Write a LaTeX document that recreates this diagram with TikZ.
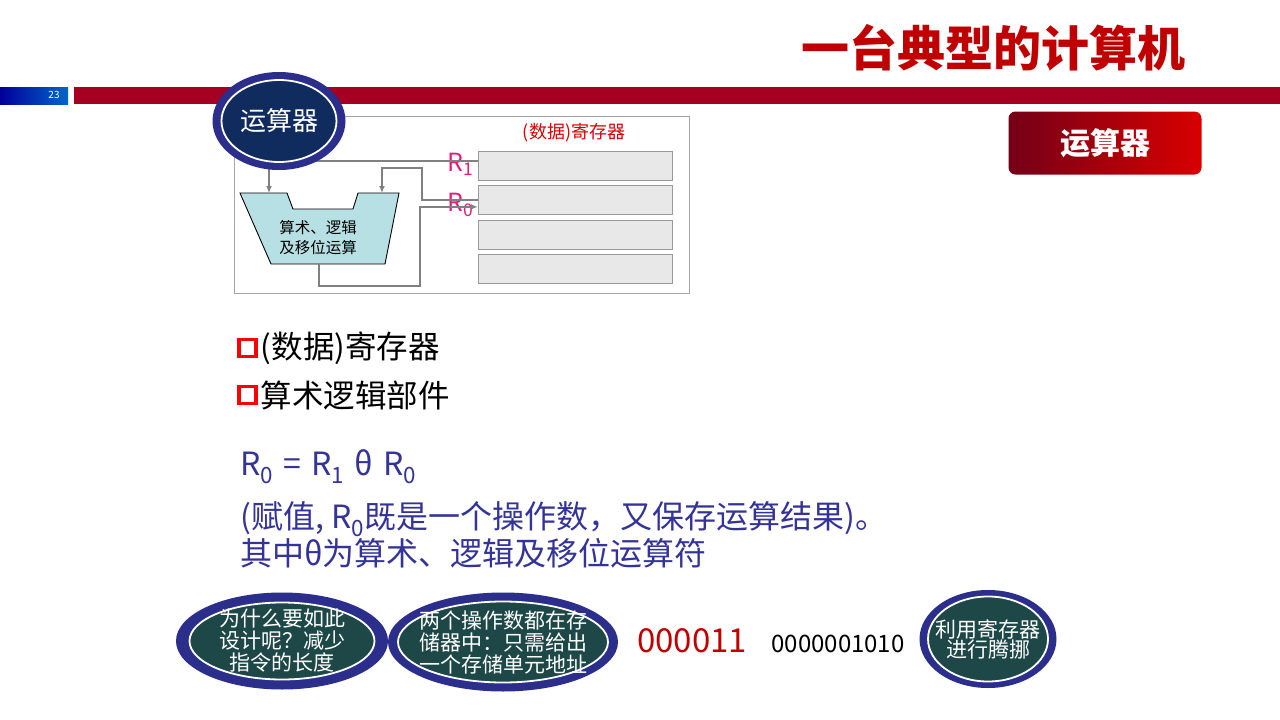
\documentclass[tikz,border=0pt]{standalone}
\usepackage{fontspec}
\setmainfont{Noto Sans CJK SC}
\usetikzlibrary{arrows.meta,positioning,shapes.geometric}
\definecolor{barred}{RGB}{165,0,33}
\definecolor{titlered}{RGB}{192,0,0}
\definecolor{ringblue}{RGB}{44,46,140}
\definecolor{darknavy}{RGB}{16,44,94}
\definecolor{darkteal}{RGB}{30,72,72}
\definecolor{textblue}{RGB}{51,51,153}
\definecolor{regpink}{RGB}{228,30,120}
\definecolor{wiregray}{RGB}{128,128,128}
\definecolor{alucyan}{RGB}{183,224,228}

\begin{document}
\begin{tikzpicture}[x=1pt,y=-1pt,>=Latex,node distance=5pt]
  \tikzstyle{outring}=[ellipse,fill=ringblue,inner sep=0pt]
  \tikzstyle{inring}=[ellipse,draw=white,line width=1.8pt,inner sep=0pt]
  \tikzstyle{ringtext}=[align=center,text=white,inner sep=0pt]
  \tikzstyle{regbox}=[draw=gray!80,fill=gray!18,minimum width=194pt,minimum height=29pt,inner sep=0pt]
  \tikzstyle{wire}=[draw=wiregray,line width=1.8pt]
  \tikzstyle{sqmark}=[draw=red,line width=3.5pt,minimum size=17pt,inner sep=0pt]
  \tikzstyle{bigtext}=[font=\fontsize{31.5}{34}\selectfont,inner sep=0pt]
  \tikzstyle{bluetext}=[font=\fontsize{32}{34}\selectfont,text=textblue,inner sep=0pt,anchor=west]
  \useasboundingbox[fill=white] (0,0) rectangle (1280,720);

  \fill[left color=blue!60!black,right color=blue!50!cyan!80!black] (0,87) rectangle (68,104);
  \node[text=white,font=\fontsize{10}{12}\selectfont] (pagenum) at (54,95) {23};
  \fill[barred] (74,87) rectangle (1280,104);

  \node[text=titlered,font=\fontsize{48}{52}\bfseries\selectfont] (title) at (993,48) {一台典型的计算机};
  \node[rounded corners=7pt,left color=barred!70!black,right color=red!85!black,minimum width=193pt,minimum height=63pt,text=white,font=\fontsize{30}{32}\bfseries\selectfont] (tag) at (1105,143) {运算器};

  \draw[gray!70,line width=0.9pt] (234,116) rectangle (689,293);
  \node[text=red!85!black,font=\fontsize{18}{20}\selectfont] (reglabel) at (574,133) {(数据)寄存器};
  \node[regbox] (r1) at (575,165.5) {};
  \node[regbox,below=of r1] (r0) {};
  \node[regbox,below=of r0] (r2) {};
  \node[regbox,below=of r2] (r3) {};
  \node[text=regpink,font=\fontsize{25}{26}\selectfont,inner sep=0pt] (r1name) at (461,164) {R\textsubscript{1}};
  \node[text=regpink,font=\fontsize{25}{26}\selectfont,inner sep=0pt] (r0name) at (461,205) {R\textsubscript{0}};

  \draw[fill=alucyan,line width=0.9pt] (240,193) -- (287,193) -- (293,209) -- (353,209) -- (358,193) -- (399,193) -- (385,264) -- (271,264) -- cycle;
  \coordinate (inA) at (269,193);
  \coordinate (inB) at (382,193);
  \coordinate (aluout) at (319,264);
  \node[align=center,font=\fontsize{15.5}{20}\selectfont] (alutext) at (318,238) {算术、逻辑\\及移位运算};

  \draw[wire,-{Latex[length=7pt,width=6pt]}] ([yshift=4.5pt]r1.west) -- ++(-2,0) -| (inA);
  \draw[wire,-{Latex[length=7pt,width=6pt]}] (r0.west) -- ++(-56,0) -- ++(0,-32) -| (inB);
  \draw[wire,-{Latex[length=7pt,width=6pt]}] (aluout) -- ++(0,22) -- ++(101,0) |- ([yshift=-7pt]r0.west);

  \node[outring,minimum width=133pt,minimum height=98pt] (aluring) at (279,121) {};
  \node[inring,fill=darknavy,minimum width=115pt,minimum height=82pt] (alucore) at (279,121) {};
  \node[ringtext,font=\fontsize{26}{28}\selectfont] (alu) at (279,121) {运算器};

  \node[sqmark] (sq1) at (247.5,348) {};
  \node[bigtext,right=3pt of sq1] (item1) {(数据)寄存器};
  \node[sqmark,below=26.5pt of sq1] (sq2) {};
  \node[bigtext,right=3pt of sq2] (item2) {算术逻辑部件};

  \node[bluetext] (formula) at (240,467) {R\textsubscript{0}\hspace{10pt}=\hspace{10pt}R\textsubscript{1}\hspace{10pt}θ\hspace{10pt}R\textsubscript{0}};
  \node[bluetext] (assign) at (240,519) {(赋值, R\textsubscript{0}既是一个操作数，又保存运算结果)。};
  \node[bluetext] (theta) at (240,553) {其中θ为算术、逻辑及移位运算符};

  \node[outring,minimum width=212pt,minimum height=97pt] (whyring) at (282,641) {};
  \node[inring,fill=darkteal,minimum width=185pt,minimum height=77pt] (whycore) at (282,641) {};
  \node[ringtext,font=\fontsize{21}{22}\selectfont] (why) at (282,641) {为什么要如此\\设计呢？减少\\指令的长度};
  \node[outring,minimum width=230pt,minimum height=99pt] (memring) at (503,642) {};
  \node[inring,fill=darkteal,minimum width=210pt,minimum height=81pt] (memcore) at (503,642) {};
  \node[ringtext,font=\fontsize{21}{22}\selectfont] (mem) at (503,642) {两个操作数都在存\\储器中：只需给出\\一个存储单元地址};
  \node[text=titlered,font=\fontsize{33}{36}\selectfont] (opcode) at (692,641) {000011};
  \node[font=\fontsize{24}{26}\selectfont] (addr) at (838,644) {0000001010};
  \node[outring,minimum width=137pt,minimum height=98pt] (usering) at (988,639) {};
  \node[inring,fill=darkteal,minimum width=120pt,minimum height=85pt] (usecore) at (988,639) {};
  \node[ringtext,font=\fontsize{21}{20}\selectfont] (use) at (988,639) {利用寄存器\\进行腾挪};
\end{tikzpicture}
\end{document}
